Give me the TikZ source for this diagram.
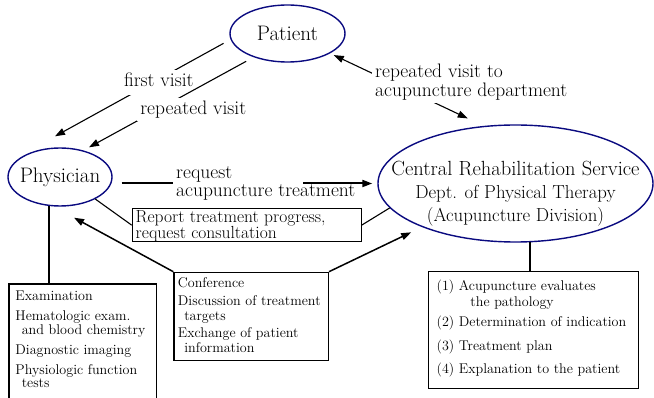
\documentclass[tikz,border=0pt]{standalone}
\usetikzlibrary{arrows.meta,shapes.geometric,calc}
\definecolor{ovalblue}{RGB}{10,10,128}
\newcommand{\boxlines}[3]{\begin{minipage}[t][#2][t]{#1}\lineskiplimit=-100pt\raggedright #3\end{minipage}}

\begin{document}
\begin{tikzpicture}[x=1pt,y=-1pt,>={Triangle[length=10pt,width=7pt]},
    oval/.style={ellipse,draw=ovalblue,line width=1.4pt,inner sep=-11pt,font=\fontsize{21}{22}\selectfont},
    lbl/.style={inner sep=3pt,align=left,font=\fontsize{19.5}{18.5}\selectfont},
    infobox/.style={draw,line width=1.3pt,anchor=north west,inner sep=0pt,font=\fontsize{14.1}{15}\selectfont},
    link/.style={line width=1.1pt},
    stem/.style={line width=2pt}]
  \useasboundingbox (0,0) rectangle (654,398);

  % the three parties
  \node[oval,minimum width=115pt,minimum height=57pt] (pat) at (287.5,33.5) {Patient};
  \node[oval,minimum width=104pt,minimum height=58pt] (phy) at (60,177) {Physician};
  \node[oval,minimum width=275pt,minimum height=117pt] (cen) at (515.5,183.5) {};
  \node[align=center,inner sep=0pt,font=\fontsize{18.8}{23}\selectfont] (centxt) at ($(cen)+(0,10)$)
    {{\fontsize{20.5}{23}\selectfont Central Rehabilitation Service}\\Dept. of Physical Therapy\\(Acupuncture Division)};

  % boxes
  \node[infobox,inner xsep=3.5pt,inner ysep=1.5pt,line width=1pt,font=\fontsize{17.5}{16}\selectfont] (rep) at (131.7,208.3)
    {\boxlines{222pt}{29.7pt}{Report treatment progress,\\request consultation}};
  \node[infobox,inner xsep=6.5pt,inner ysep=7.2pt,font=\fontsize{14.1}{13.3}\selectfont] (exm) at (8.3,283.3)
    {\boxlines{134.7pt}{125pt}{Examination\\[6.7pt]
      Hematologic exam.\\\hspace*{.45em}and blood chemistry\\[6.7pt]
      Diagnostic imaging\\[6.7pt]
      Physiologic function\\\hspace*{.45em}tests}};
  \node[infobox,inner xsep=4pt,inner ysep=4.8pt] (conf) at (173.3,271.7)
    {\boxlines{146.4pt}{78.7pt}{Conference\\[3.4pt]
      Discussion of treatment\\\hspace*{.45em}targets\\[1.6pt]
      Exchange of patient\\\hspace*{.45em}information}};
  \node[infobox,inner xsep=8.3pt,inner ysep=8.4pt,font=\fontsize{14.1}{16}\selectfont] (acu) at (427.7,271)
    {\boxlines{193.7pt}{100.2pt}{(1) Acupuncture evaluates\\\hspace*{2.4em}the pathology\\[4pt]
      (2) Determination of indication\\[8pt]
      (3) Treatment plan\\[7pt]
      (4) Explanation to the patient}};

  % visits
  \draw[link,->,shorten <=8pt] (pat.186) -- ($(phy.north)+(-5,-11)$);
  \node[lbl,fill=white,text depth=5pt] (fv) at (158.8,82.5) {first visit};
  \draw[link,->,shorten <=8.5pt] (pat.215) -- ($(phy.north)+(29,0)$);
  \node[lbl,fill=white] (rv) at (193.3,109.5) {repeated visit};
  \draw[link,<->,shorten <=4pt,shorten >=17.5pt] (pat.-25) -- (cen.119);
  \node[lbl,fill=white,anchor=west] (rvac) at (372,82) {repeated visit to\\acupuncture department};

  % requests and reports
  \node[lbl,anchor=west] (rq) at (173,183.5) {request\\acupuncture treatment};
  \draw[stem,shorten <=9pt] (rq.west -| phy.east) -- (rq.west);
  \draw[stem,->,shorten >=5pt] ($(rq.west)+(130,0)$) -- (cen.west |- rq.west);
  \draw[link] (phy.-32) -- (rep.west);
  \draw[link] (rep.east) -- (cen.191);
  \draw[link,line width=1.5pt,->] (conf.north west) -- ($(phy.south)+(14,11)$);
  \draw[link,line width=1.5pt,->,shorten >=12pt] (conf.north east) -- (cen.205);

  % tasks of each side
  \draw[stem] (phy.249) -- (phy.249 |- exm.north);
  \draw[stem] (cen.284) -- (cen.284 |- acu.north);
\end{tikzpicture}
\end{document}
